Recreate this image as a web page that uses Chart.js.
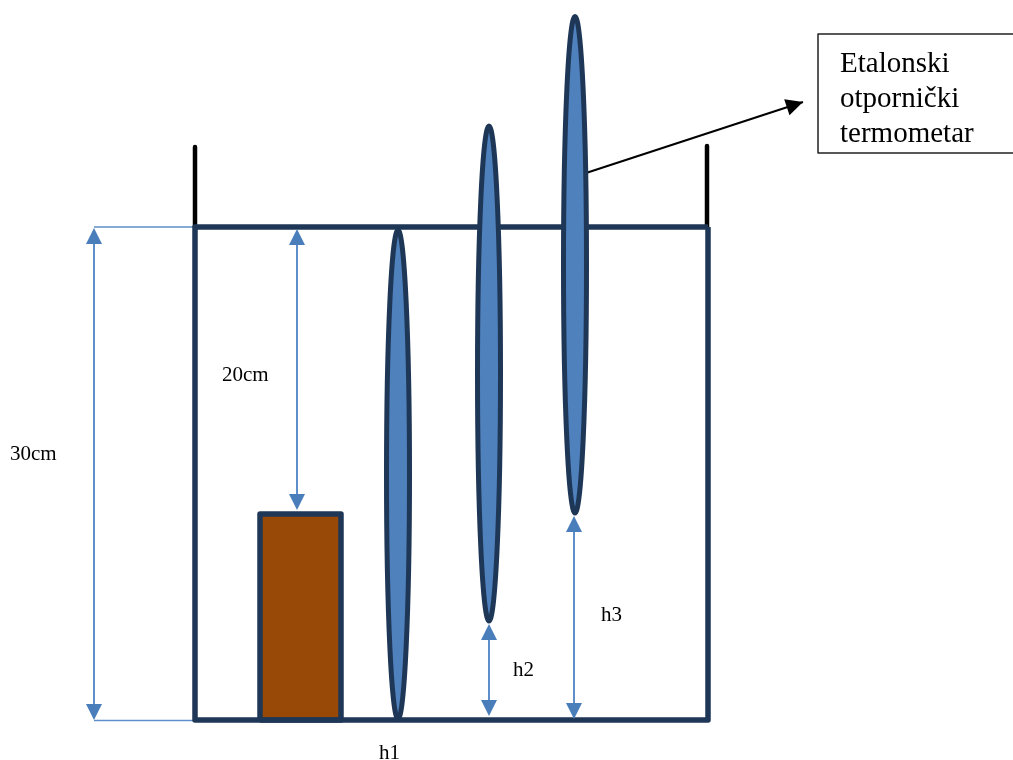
<!DOCTYPE html>
<html>
<head>
<meta charset="utf-8">
<title>Etalonski otpornički termometar</title>
<script src="https://cdn.jsdelivr.net/npm/chart.js@4"></script>
<style>
    html, body { margin: 0; padding: 0; background: #fff; overflow: hidden; }
    canvas { display: block; }
</style>
</head>
<body>
<canvas id="chart" width="1013" height="760"></canvas>
<script>
const vesselX = [195, 195, 708, 708];
const vesselY = [227, 720, 720, 227];
const rimX = [195, 708];
const rimY = [227, 227];
const leftPostX = [195, 195];
const leftPostY = [147, 227];
const rightPostX = [707, 707];
const rightPostY = [146, 227];
const blockX = [260, 260, 341, 341, 260];
const blockY = [720, 514, 514, 720, 720];
const boxX = [818, 818, 1016, 1016, 818];
const boxY = [34, 153, 153, 34, 34];
const topGuideX = [94, 195];
const topGuideY = [227, 227];
const bottomGuideX = [94, 195];
const bottomGuideY = [720.5, 720.5];
const pointerX = [586, 803];
const pointerY = [173, 102];

// thermometers: centre x, top y, bottom y, half width
const thermoX = [398, 489, 575];
const thermoTop = [230, 126, 16.5];
const thermoBottom = [719, 621, 513];
const thermoHalfWidth = [11.5, 11.5, 11.5];

// double headed dimension arrows
const dimX = [94, 297, 489, 574];
const dimTop = [228, 229, 624, 516];
const dimBottom = [720, 510, 716, 719];

const labelTexts = ["30cm", "20cm", "h1", "h2", "h3"];
const labelX = [10, 222, 379, 513, 601];
const labelY = [460, 381, 759, 676, 621];
const boxTexts = ["Etalonski", "otpornički", "termometar"];
const boxTextX = [840, 840, 840];
const boxTextY = [72, 107, 142];

const navy = "#1f3757";
const blue = "#4f81bd";
const thinBlue = "#5f8fca";

function points(xs, ys) {
    return xs.map((x, i) => ({ x: x, y: ys[i] }));
}

function segment(xs, ys, color, width, extra) {
    return Object.assign({
        data: points(xs, ys),
        showLine: true,
        borderColor: color,
        borderWidth: width,
        borderJoinStyle: "round",
        pointRadius: 0,
        tension: 0
    }, extra);
}

function arrowHead(ctx, x, y, angle, length, width, color) {
    ctx.save();
    ctx.translate(x, y);
    ctx.rotate(angle);
    ctx.fillStyle = color;
    ctx.beginPath();
    ctx.moveTo(0, 0);
    ctx.lineTo(-length, width / 2);
    ctx.lineTo(-length, -width / 2);
    ctx.closePath();
    ctx.fill();
    ctx.restore();
}

// Shapes Chart.js has no element for: thermometers, arrow heads, texts
const shapesPlugin = {
    id: "shapes",
    afterDatasetsDraw(chart) {
        const ctx = chart.ctx;
        const sx = chart.scales.x;
        const sy = chart.scales.y;

        thermoX.forEach((x, i) => {
            const top = sy.getPixelForValue(thermoTop[i]);
            const bottom = sy.getPixelForValue(thermoBottom[i]);
            ctx.beginPath();
            ctx.ellipse(sx.getPixelForValue(x), (top + bottom) / 2, thermoHalfWidth[i], (bottom - top) / 2, 0, 0, Math.PI * 2);
            ctx.fillStyle = blue;
            ctx.fill();
            ctx.strokeStyle = navy;
            ctx.lineWidth = 5;
            ctx.stroke();
        });

        dimX.forEach((x, i) => {
            const px = sx.getPixelForValue(x);
            arrowHead(ctx, px, sy.getPixelForValue(dimTop[i]), -Math.PI / 2, 16, 16, "#4a7ebb");
            arrowHead(ctx, px, sy.getPixelForValue(dimBottom[i]), Math.PI / 2, 16, 16, "#4a7ebb");
        });

        const angle = Math.atan2(
            sy.getPixelForValue(pointerY[1]) - sy.getPixelForValue(pointerY[0]),
            sx.getPixelForValue(pointerX[1]) - sx.getPixelForValue(pointerX[0])
        );
        arrowHead(ctx, sx.getPixelForValue(pointerX[1]), sy.getPixelForValue(pointerY[1]), angle, 17, 17, "#000");

        ctx.fillStyle = "#000";
        ctx.textAlign = "left";
        ctx.textBaseline = "alphabetic";
        ctx.font = "21px 'Liberation Serif'";
        labelTexts.forEach((t, i) => {
            ctx.fillText(t, sx.getPixelForValue(labelX[i]), sy.getPixelForValue(labelY[i]));
        });
        ctx.font = "29px 'Liberation Serif'";
        boxTexts.forEach((t, i) => {
            ctx.fillText(t, sx.getPixelForValue(boxTextX[i]), sy.getPixelForValue(boxTextY[i]));
        });
    }
};

const dimensionSets = dimX.map((x, i) =>
    segment([x, x], [dimTop[i] + 8, dimBottom[i] - 8], thinBlue, 2)
);

new Chart(document.getElementById("chart"), {
    type: "scatter",
    data: {
        datasets: [
            segment(vesselX, vesselY, navy, 5.5),
            segment(rimX, rimY, navy, 5.5),
            segment(leftPostX, leftPostY, "#000", 4.5),
            segment(rightPostX, rightPostY, "#000", 4.5),
            segment(blockX, blockY, navy, 5.5, { fill: "shape", backgroundColor: "#984807" }),
            segment(boxX, boxY, "#222", 1.5),
            segment(topGuideX, topGuideY, thinBlue, 1.5),
            segment(bottomGuideX, bottomGuideY, thinBlue, 1.5),
            segment(pointerX, pointerY, "#000", 2)
        ].concat(dimensionSets)
    },
    options: {
        responsive: false,
        animation: false,
        layout: { padding: 0 },
        plugins: {
            legend: { display: false },
            tooltip: { enabled: false }
        },
        scales: {
            x: { display: false, min: 0, max: 1013 },
            y: { display: false, min: 0, max: 760, reverse: true }
        }
    },
    plugins: [shapesPlugin]
});
</script>
</body>
</html>
